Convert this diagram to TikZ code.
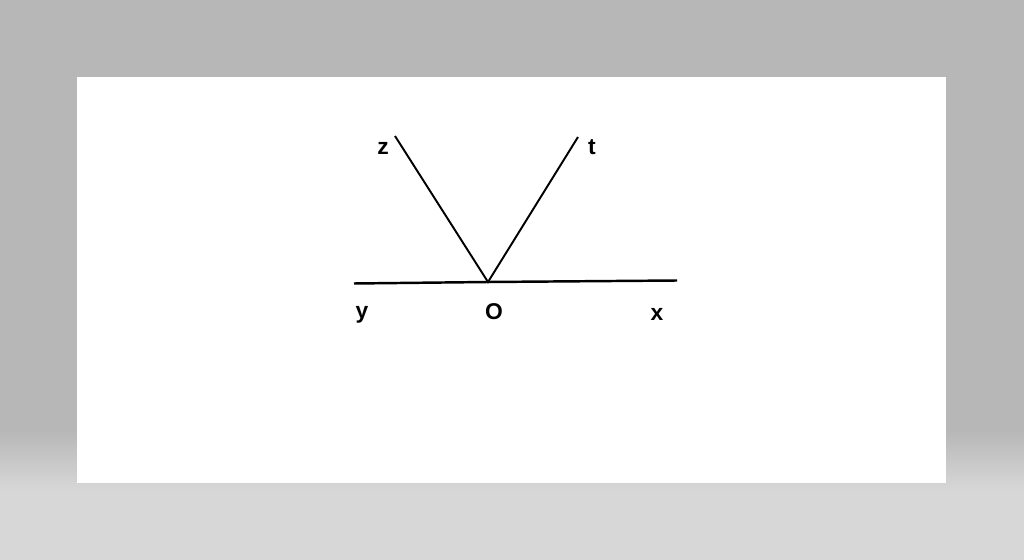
\documentclass[tikz,border=0pt]{standalone}
\usepackage{fontspec}
\setmainfont{Liberation Sans}
\usepackage{tikz}
\definecolor{backgray}{RGB}{182,183,182}
\definecolor{floorgray}{RGB}{214,215,214}
\tikzstyle{lbl}=[inner sep=0pt, font=\fontsize{13}{15}\selectfont\bfseries]
\tikzstyle{ray}=[line width=1.1pt, color=black]
\begin{document}
\begin{tikzpicture}[x=.02cm, y=-.02cm]
	% background and sheet
	\fill[backgray] (0,0) rectangle (1024,560);
	\shade[top color=backgray, bottom color=floorgray] (0,430) rectangle (1024,490);
	\fill[floorgray] (0,490) rectangle (1024,560);
	\useasboundingbox (0,0) rectangle (1024,560);
	\fill[white] (77,77) rectangle (946,483);
	% points
	\coordinate (O) at (488,282);
	\coordinate (Y) at (354,283.5);
	\coordinate (X) at (677,280.5);
	\coordinate (Z) at (395,136);
	\coordinate (T) at (578,137);
	\draw[ray, line width=1.4pt] (Y) -- (O) -- (X);
	\draw[ray] (Z) -- (O) -- (T);
	% labels
	\node[lbl] (zl) at (383,148) {z};
	\node[lbl] (tl) at (592,147) {t};
	\node[lbl] (yl) at (362,315) {y};
	\node[lbl] (ol) at (494,312) {O};
	\node[lbl] (xl) at (657,314) {x};
\end{tikzpicture}
\end{document}
